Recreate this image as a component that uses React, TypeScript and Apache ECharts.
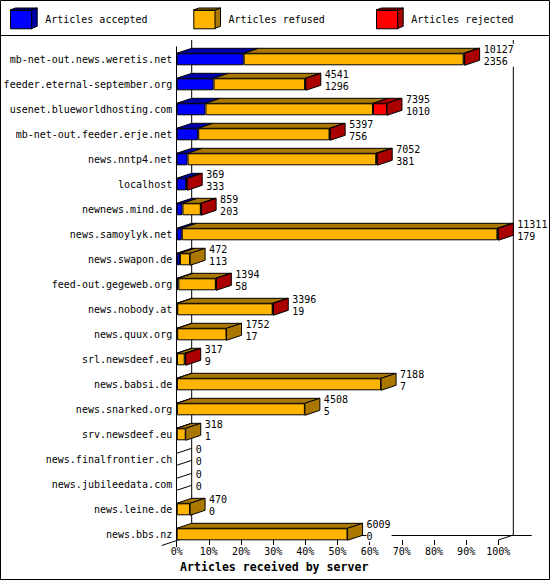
import { useEffect, useRef } from 'react';
import * as echarts from 'echarts';

const SERVERS = [
  'mb-net-out.news.weretis.net',
  'feeder.eternal-september.org',
  'usenet.blueworldhosting.com',
  'mb-net-out.feeder.erje.net',
  'news.nntp4.net',
  'localhost',
  'newnews.mind.de',
  'news.samoylyk.net',
  'news.swapon.de',
  'feed-out.gegeweb.org',
  'news.nobody.at',
  'news.quux.org',
  'srl.newsdeef.eu',
  'news.babsi.de',
  'news.snarked.org',
  'srv.newsdeef.eu',
  'news.finalfrontier.ch',
  'news.jubileedata.com',
  'news.leine.de',
  'news.bbs.nz',
];
const TOTALS = [10127, 4541, 7395, 5397, 7052, 369, 859, 11311, 472, 1394, 3396, 1752, 317, 7188, 4508, 318, 0, 0, 470, 6009];
const ACCEPTED = [2356, 1296, 1010, 756, 381, 333, 203, 179, 113, 58, 19, 17, 9, 7, 5, 1, 0, 0, 0, 0];
// rejected counts are not printed; estimated from the red part of each bar
const REJECTED = [35, 25, 490, 20, 35, 36, 12, 30, 0, 18, 20, 0, 35, 0, 0, 0, 0, 0, 0, 0];

const NAMES = ['Articles accepted', 'Articles refused', 'Articles rejected'];
const FRONT = ['#0000ff', '#ffb400', '#ff0000'];
const SHADE = ['#0000aa', '#aa7800', '#aa0000'];
const FONT = '"DejaVu Sans Mono", "Liberation Mono", monospace';

const DX = 15;
const DY = 5;
const HALF = 6;
const GRID_LEFT = 176.7;
const GRID_RIGHT_X = 498.3;
const FLOOR_Y = 540;
const LEGEND_X = [10, 193.3, 376];

const MAX_TOTAL = Math.max(...TOTALS);
const REFUSED = TOTALS.map((t, i) => t - ACCEPTED[i] - REJECTED[i]);
const pct = (v: number) => (v / MAX_TOTAL) * 100;
const barData = (arr: number[]) => arr.map((v) => (v > 0 ? pct(v) : '-'));

function renderDepth(_params: any, api: any) {
  const row = api.value(0);
  const [x0, yc] = api.coord([0, row]);
  const yTop = yc - HALF;
  const yBot = yc + HALF;
  const segs = [api.value(1), api.value(2), api.value(3)];
  let last = -1;
  segs.forEach((s: number, k: number) => {
    if (s > 0) last = k;
  });
  const children: any[] = [];
  let start = 0;
  let xEnd = x0;
  segs.forEach((s: number, k: number) => {
    if (!(s > 0)) return;
    const xa = api.coord([start, row])[0];
    const xb = api.coord([start + s, row])[0];
    children.push({
      type: 'polygon',
      shape: { points: [[xa, yTop], [xb, yTop], [xb + DX, yTop - DY], [xa + DX, yTop - DY]] },
      style: { fill: SHADE[k], stroke: '#000', lineWidth: 1 },
    });
    if (k === last) {
      children.push({
        type: 'polygon',
        shape: { points: [[xb, yTop], [xb + DX, yTop - DY], [xb + DX, yBot - DY], [xb, yBot]] },
        style: { fill: SHADE[k], stroke: '#000', lineWidth: 1 },
      });
      xEnd = xb;
    }
    start += s;
  });
  if (last < 0) {
    // empty row: only the depth edges of a zero-length bar
    children.push(
      { type: 'line', shape: { x1: x0, y1: yTop, x2: x0 + DX, y2: yTop - DY }, style: { stroke: '#000', lineWidth: 1 } },
      { type: 'line', shape: { x1: x0, y1: yBot, x2: x0 + DX, y2: yBot - DY }, style: { stroke: '#000', lineWidth: 1 } },
    );
  }
  children.push({
    type: 'text',
    x: xEnd + DX + 4,
    y: yc - 4,
    style: {
      text: `${api.value(4)}\n${api.value(5)}`,
      fontFamily: FONT,
      fontSize: 10,
      lineHeight: 11.5,
      fill: '#000',
      align: 'left',
      verticalAlign: 'middle',
      backgroundColor: '#fff',
      padding: [0, 1, 0, 0],
    },
  });
  return { type: 'group', children };
}

function legendCube(x: number, k: number) {
  const w = 21.7;
  const top = 10;
  const bot = 28.3;
  return [
    {
      type: 'polygon',
      z: 10,
      shape: { points: [[x + w, top], [x + w + 5.5, top - 2], [x + w + 5.5, bot - 2], [x + w, bot]] },
      style: { fill: SHADE[k], stroke: '#000', lineWidth: 1 },
    },
    {
      type: 'polygon',
      z: 10,
      shape: { points: [[x, top], [x + 5.5, top - 2], [x + w + 5.5, top - 2], [x + w, top]] },
      style: { fill: SHADE[k], stroke: '#000', lineWidth: 1 },
    },
  ];
}

export default function App() {
  const chartRef = useRef<HTMLDivElement>(null);

  useEffect(() => {
    document.body.style.margin = '0';
    if (!chartRef.current) return;
    const chart = echarts.init(chartRef.current, null, { renderer: 'svg' });

    const line = (x1: number, y1: number, x2: number, y2: number) => ({
      type: 'line',
      z: 0,
      shape: { x1, y1, x2, y2 },
      style: { stroke: '#000', lineWidth: 1 },
    });

    chart.setOption({
      animation: false,
      backgroundColor: '#fff',
      textStyle: { fontFamily: FONT },
      legend: NAMES.map((name, k) => ({
        data: [name],
        left: LEGEND_X[k],
        top: 10,
        padding: 0,
        icon: 'rect',
        itemWidth: 21.7,
        itemHeight: 18.3,
        selectedMode: false,
        itemStyle: { borderColor: '#000', borderWidth: 1 },
        textStyle: { fontFamily: FONT, fontSize: 10, color: '#000', padding: [0, 0, 0, 8] },
      })),
      grid: { left: GRID_LEFT, right: 550 - GRID_RIGHT_X, top: 46.8, bottom: 33.2, containLabel: false },
      xAxis: {
        type: 'value',
        min: 0,
        max: 100,
        interval: 10,
        offset: -6.8,
        axisLine: { show: false },
        axisTick: { show: true, length: 5, lineStyle: { color: '#000', width: 1 } },
        splitLine: { show: false },
        axisLabel: { formatter: '{value}%', color: '#000', fontFamily: FONT, fontSize: 10, margin: 6 },
      },
      yAxis: {
        type: 'category',
        inverse: true,
        data: SERVERS,
        axisLine: { show: true, lineStyle: { color: '#000', width: 1 } },
        axisTick: { show: false },
        axisLabel: { color: '#000', fontFamily: FONT, fontSize: 10, margin: 4.5 },
      },
      series: [
        ...[ACCEPTED, REFUSED, REJECTED].map((arr, k) => ({
          name: NAMES[k],
          type: 'bar',
          stack: 'all',
          barWidth: 12,
          silent: true,
          itemStyle: { color: FRONT[k], borderColor: '#000', borderWidth: 1 },
          data: barData(arr),
        })),
        {
          name: 'depth',
          type: 'custom',
          silent: true,
          coordinateSystem: 'cartesian2d',
          renderItem: renderDepth,
          encode: { x: 6, y: 0 },
          data: SERVERS.map((_, i) => [
            i,
            pct(ACCEPTED[i]),
            pct(REFUSED[i]),
            pct(REJECTED[i]),
            TOTALS[i],
            ACCEPTED[i],
            pct(TOTALS[i]),
          ]),
        },
      ],
      graphic: [
        { type: 'rect', z: 0, shape: { x: 0.5, y: 0.5, width: 549, height: 579 }, style: { fill: 'none', stroke: '#000', lineWidth: 1 } },
        line(0, 35.5, 550, 35.5),
        line(GRID_LEFT + DX, 40, GRID_LEFT + DX, FLOOR_Y - DY),
        line(GRID_RIGHT_X + DX, 40, GRID_RIGHT_X + DX, FLOOR_Y - DY),
        line(GRID_LEFT + DX, FLOOR_Y - DY + 0.5, 531.7, FLOOR_Y - DY + 0.5),
        line(GRID_RIGHT_X, FLOOR_Y, GRID_RIGHT_X + DX, FLOOR_Y - DY),
        line(GRID_LEFT - DX, FLOOR_Y + DY + 0.5, GRID_LEFT + DX, FLOOR_Y - DY + 0.5),
        ...LEGEND_X.flatMap((x, k) => legendCube(x, k)),
        {
          type: 'text',
          left: 180,
          top: 561,
          style: {
            text: 'Articles received by server',
            fontFamily: FONT,
            fontSize: 11.6,
            fontWeight: 'bold',
            fill: '#000',
          },
        },
      ],
    });

    return () => chart.dispose();
  }, []);

  return <div ref={chartRef} style={{ width: 550, height: 580 }} />;
}
